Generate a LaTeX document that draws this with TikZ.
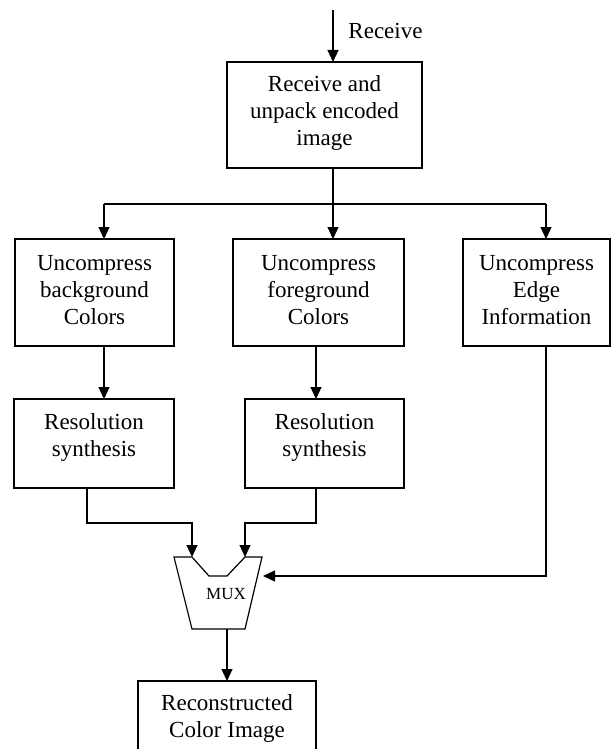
\documentclass[tikz,border=0pt]{standalone}
\usepackage{fontspec}
\setmainfont{Liberation Serif}
\usetikzlibrary{arrows.meta}
\begin{document}
\begin{tikzpicture}[x=1pt,y=-1pt,
  line width=1.2pt,
  box/.style={draw, rectangle, inner sep=0pt, outer sep=0pt},
  lbl/.style={align=center, font=\fontsize{23}{27}\selectfont, inner sep=0pt},
  arr/.style={-{Triangle[length=12pt,width=11pt]}},
]
\useasboundingbox (0,0) rectangle (611,749);

% decoding stage
\node[box, minimum width=195pt, minimum height=106pt] (recv) at (324.5,115) {};
\node[lbl] (recvtxt) at (324.5,113) {Receive and\\unpack encoded\\image};
\node[lbl] (rl) at (385.5,31) {Receive};

% uncompress stage
\node[box, minimum width=159pt, minimum height=107pt] (ub) at (94.5,292.5) {};
\node[box, minimum width=171pt, minimum height=107pt] (uf) at (318.5,292.5) {};
\node[box, minimum width=147pt, minimum height=107pt] (ue) at (536.5,292.5) {};
\node[lbl] (ubtxt) at (94.5,290) {Uncompress\\background\\Colors};
\node[lbl] (uftxt) at (318.5,290) {Uncompress\\foreground\\Colors};
\node[lbl] (uetxt) at (536.5,290) {Uncompress\\Edge\\Information};

% resolution synthesis
\node[box, minimum width=160pt, minimum height=89pt] (rb) at (94,443.5) {};
\node[box, minimum width=159pt, minimum height=89pt] (rf) at (324.5,443.5) {};
\node[lbl] (rbtxt) at (94,437) {Resolution\\synthesis};
\node[lbl] (rftxt) at (324.5,437) {Resolution\\synthesis};

% multiplexer
\draw (174,557) -- (192,557) -- (209,576) -- (227,576) -- (245,557) -- (262,557)
  -- (245,629) -- (192,629) -- cycle;
\node[inner sep=0pt, font=\fontsize{17}{20}\selectfont] (mux) at (226,594) {MUX};

% output
\node[box, minimum width=178pt, minimum height=90pt, anchor=north] (out) at (227,681) {};
\node[lbl] (outtxt) at (227,718) {Reconstructed\\Color Image};

% connectors
\coordinate (in) at (333,10);
\coordinate (split) at (333,204);
\coordinate (bl) at (104,204);
\coordinate (br) at (546,204);
\coordinate (fx) at (316,372);
\coordinate (c1) at (87,523);
\coordinate (c2) at (316,523);
\coordinate (c3) at (546,576);
\coordinate (m1) at (192,557);
\coordinate (m2) at (245,557);
\coordinate (m3) at (263,576);
\coordinate (mo) at (227,629);

\draw[arr] (in) -- (in |- recv.north);
\draw (split |- recv.south) -- (split);
\draw (bl) -- (br);
\draw[arr] (bl) -- (bl |- ub.north);
\draw[arr] (split) -- (split |- uf.north);
\draw[arr] (br) -- (br |- ue.north);
\draw[arr] (bl |- ub.south) -- (bl |- rb.north);
\draw[arr] (fx |- uf.south) -- (fx |- rf.north);
\draw[arr] (c1 |- rb.south) -- (c1) -| (m1);
\draw[arr] (c2 |- rf.south) -- (c2) -| (m2);
\draw[arr] (c3 |- ue.south) -- (c3) -- (m3);
\draw[arr] (mo) -- (mo |- out.north);
\end{tikzpicture}
\end{document}
